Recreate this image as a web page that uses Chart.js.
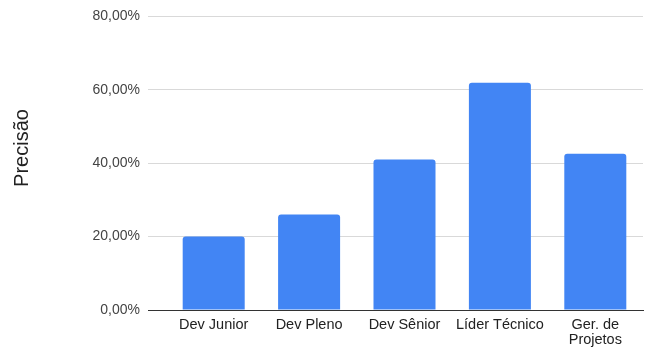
<!DOCTYPE html>
<html>
<head>
<meta charset="utf-8">
<script src="https://cdn.jsdelivr.net/npm/chart.js@4"></script>
<style>
  html, body { margin: 0; padding: 0; background: #fff; }
  #wrap { width: 651px; height: 347px; }
</style>
</head>
<body>
<div id="wrap"><canvas id="grafico"></canvas></div>
<script>
// Dados
const cargos = ['Dev Junior', 'Dev Pleno', 'Dev Sênior', 'Líder Técnico', ['Ger. de', 'Projetos']];
const precisao = [20.0, 26.0, 41.0, 61.9, 42.6];
const ticksY = [0, 20, 40, 60, 80];
const tituloY = 'Precisão';

function formata(v) {
    return v.toFixed(2).replace('.', ',') + '%';
}

// titulo do eixo Y, um pouco acima do centro como no original
const tituloPlugin = {
    id: 'tituloY',
    afterDraw(chart) {
        const c = chart.ctx;
        c.save();
        c.translate(22, 148);
        c.rotate(-Math.PI / 2);
        c.font = '20px "Liberation Sans", Arial';
        c.fillStyle = '#222222';
        c.textAlign = 'center';
        c.textBaseline = 'middle';
        c.fillText(tituloY, 0, 0);
        c.restore();
    }
};

const ctx = document.getElementById('grafico');
new Chart(ctx, {
    type: 'bar',
    data: {
        labels: cargos,
        datasets: [
            {
                label: 'Precisão',
                data: precisao,
                backgroundColor: '#4285f4',
                borderRadius: 3,
                borderSkipped: 'bottom',
                categoryPercentage: 1,
                barPercentage: 0.65,
            },
        ]
    },
    options: {
        responsive: true,
        maintainAspectRatio: false,
        animation: false,
        layout: {
            padding: { top: 16, right: 8, bottom: 0, left: 0 }
        },
        scales: {
            x: {
                grid: { display: false, drawTicks: false },
                border: { display: true, color: '#333333', width: 1 },
                ticks: {
                    color: '#222222',
                    font: { family: 'Liberation Sans, Arial', size: 14.5, lineHeight: 1.02 },
                    padding: 8,
                    maxRotation: 0,
                    autoSkip: false,
                },
                afterFit: function (axis) { axis.height = 37; }
            },
            y: {
                min: 0,
                max: 80,
                afterBuildTicks: function (axis) {
                    axis.ticks = ticksY.map(v => ({ value: v }));
                },
                grid: {
                    color: c => c.tick && c.tick.value === 0 ? '#333333' : '#d9d9d9',
                    tickColor: c => c.tick && c.tick.value === 0 ? '#333333' : '#d9d9d9',
                    tickLength: 18,
                    lineWidth: 1,
                },
                border: { display: false },
                ticks: {
                    color: '#444444',
                    font: { family: 'Liberation Sans, Arial', size: 14 },
                    padding: 8,
                    callback: v => formata(v),
                },
                afterFit: function (axis) { axis.width = 166; }
            }
        },
        plugins: {
            legend: { display: false },
            tooltip: { enabled: false },
        }
    },
    plugins: [tituloPlugin]
});
</script>
</body>
</html>
